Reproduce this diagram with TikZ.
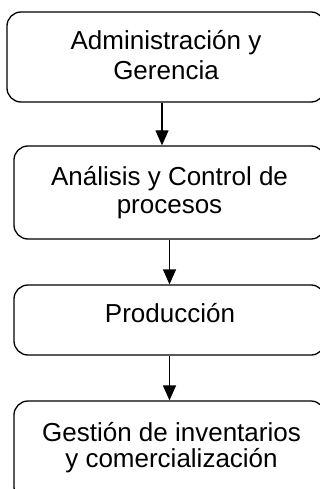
\documentclass[tikz,border=0pt]{standalone}
\usepackage{fontspec}
\setmainfont{Liberation Sans}
\usetikzlibrary{arrows.meta}
\tikzset{
  box/.style={draw=black, line width=1.3pt, rounded corners=14pt, inner sep=0pt},
  lbl/.style={inner sep=0pt, align=center, font=\fontsize{26}{28}\selectfont, text=black},
  arr/.style={draw=black, line width=1.3pt, -{Triangle[length=15pt,width=13pt]}}
}
\begin{document}
\begin{tikzpicture}[x=1pt,y=-1pt]
\useasboundingbox (0,0) rectangle (320,489);
\clip (0,0) rectangle (320,489);
\node[box, minimum width=318pt, minimum height=90pt] (b1) at (166,57) {};
\node[box, minimum width=311pt, minimum height=93pt] (b2) at (169.5,192.5) {};
\node[box, minimum width=311pt, minimum height=70pt] (b3) at (169.5,320) {};
\node[box, minimum width=311pt, minimum height=100pt] (b4) at (169.5,451) {};
\node[lbl, anchor=base, font=\fontsize{26}{30}\selectfont] (t1) at (166,80) {Administración y\\Gerencia};
\node[lbl, anchor=base] (t2) at (169.5,213) {Análisis y Control de\\procesos};
\node[lbl, anchor=base] (t3) at (170,322) {Producción};
\node[lbl, anchor=base, font=\fontsize{26}{26}\selectfont] (t4) at (171.5,467.5) {Gestión de inventarios\\y comercialización};
\coordinate (c1) at (162,0);
\draw[arr] (b1.south -| c1) -- (b2.north -| c1);
\draw[arr] (b2.south -| b3.north) -- (b3.north);
\draw[arr] (b3.south) -- (b4.north);
\end{tikzpicture}
\end{document}
